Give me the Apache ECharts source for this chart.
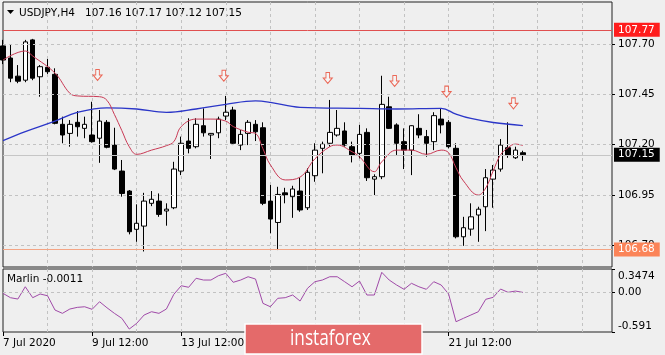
<!DOCTYPE html>
<html>
<head>
<meta charset="utf-8">
<script src="https://cdn.jsdelivr.net/npm/echarts@6/dist/echarts.min.js"></script>
<style>
  html, body { margin: 0; padding: 0; background: #efefef; }
  #chart { width: 665px; height: 355px; }
</style>
</head>
<body>
<div id="chart"></div>
<script>
// USDJPY H4 candles: [open, close, low, high]
var candles = [
  [107.69, 107.62, 107.60, 107.72],
  [107.63, 107.53, 107.51, 107.695],
  [107.54, 107.515, 107.505, 107.595],
  [107.52, 107.71, 107.51, 107.72],
  [107.72, 107.53, 107.52, 107.725],
  [107.537, 107.587, 107.438, 107.595],
  [107.584, 107.562, 107.551, 107.625],
  [107.549, 107.306, 107.301, 107.579],
  [107.301, 107.248, 107.207, 107.339],
  [107.256, 107.301, 107.19, 107.322],
  [107.311, 107.289, 107.24, 107.367],
  [107.281, 107.301, 107.232, 107.339],
  [107.248, 107.215, 107.21, 107.413],
  [107.232, 107.317, 107.11, 107.372],
  [107.311, 107.187, 107.182, 107.322],
  [107.198, 107.079, 107.074, 107.284],
  [107.069, 106.958, 106.942, 107.124],
  [106.97, 106.768, 106.755, 106.975],
  [106.78, 106.81, 106.718, 106.904],
  [106.796, 106.92, 106.67, 106.961],
  [106.909, 106.929, 106.895, 106.97],
  [106.92, 106.854, 106.842, 106.958],
  [106.871, 106.88, 106.798, 106.909],
  [106.887, 107.079, 106.88, 107.115],
  [107.069, 107.207, 107.049, 107.24],
  [107.218, 107.182, 107.157, 107.331],
  [107.19, 107.301, 107.182, 107.331],
  [107.294, 107.259, 107.24, 107.38],
  [107.248, 107.256, 107.129, 107.258],
  [107.259, 107.327, 107.232, 107.339],
  [107.342, 107.361, 107.322, 107.442],
  [107.372, 107.207, 107.198, 107.388],
  [107.198, 107.251, 107.173, 107.273],
  [107.256, 107.311, 107.198, 107.322],
  [107.301, 107.264, 107.218, 107.322],
  [107.284, 106.909, 106.9, 107.311],
  [106.92, 106.831, 106.76, 107.0],
  [106.814, 106.953, 106.677, 106.991],
  [106.961, 106.95, 106.909, 106.986],
  [106.942, 106.98, 106.837, 106.996],
  [106.97, 106.876, 106.867, 107.036],
  [106.887, 107.063, 106.876, 107.083],
  [107.046, 107.173, 107.016, 107.207],
  [107.182, 107.202, 107.058, 107.215],
  [107.207, 107.261, 107.19, 107.422],
  [107.248, 107.281, 107.24, 107.372],
  [107.268, 107.198, 107.19, 107.311],
  [107.19, 107.149, 107.112, 107.215],
  [107.157, 107.251, 107.132, 107.298],
  [107.261, 107.036, 107.02, 107.281],
  [107.029, 107.041, 106.95, 107.053],
  [107.041, 107.4, 107.029, 107.542],
  [107.388, 107.281, 107.278, 107.438],
  [107.298, 107.207, 107.149, 107.306],
  [107.215, 107.173, 107.079, 107.281],
  [107.173, 107.294, 107.049, 107.296],
  [107.281, 107.248, 107.232, 107.351],
  [107.24, 107.207, 107.14, 107.273],
  [107.215, 107.344, 107.173, 107.361],
  [107.327, 107.298, 107.256, 107.377],
  [107.311, 107.19, 107.182, 107.322],
  [107.182, 106.743, 106.735, 107.207],
  [106.743, 106.788, 106.698, 106.842],
  [106.781, 106.842, 106.748, 106.909],
  [106.851, 106.88, 106.718, 106.892],
  [106.892, 107.036, 106.771, 107.079],
  [107.029, 107.074, 106.887, 107.099],
  [107.079, 107.198, 107.066, 107.228],
  [107.185, 107.149, 107.135, 107.311],
  [107.135, 107.173, 107.129, 107.19],
  [107.16, 107.15, 107.12, 107.17]
];
var slots = 83; // bar slots across the window (empty ones on the right)

var xLabelIdx = [0, 12, 24, 36, 48, 60];
var xLabelText = ['7 Jul 2020', '9 Jul 12:00', '13 Jul 12:00', '15 Jul 12:00', '17 Jul 12:00', '21 Jul 12:00'];

var priceTicks = [106.70, 106.95, 107.20, 107.45, 107.70];
var resistance = 107.77;
var support = 106.68;
var lastPrice = 107.15;

// moving averages: [bar index, price]
var maFast = [
  [0, 107.62], [3, 107.665], [4, 107.64], [7, 107.555], [9, 107.455], [10, 107.442],
  [13, 107.438], [14, 107.42], [15, 107.35], [16, 107.27], [17, 107.19], [18, 107.152],
  [20, 107.173], [22, 107.195], [23, 107.215], [24, 107.29], [26, 107.327], [28, 107.327],
  [30, 107.317], [31, 107.29], [33, 107.262], [34, 107.256], [35, 107.18], [36, 107.10],
  [38, 107.025], [40, 107.039], [42, 107.13], [44, 107.19], [45, 107.198], [47, 107.165],
  [48, 107.14], [50, 107.066], [51, 107.115], [53, 107.173], [55, 107.173], [57, 107.152],
  [59, 107.173], [60, 107.16], [61, 107.085], [62, 107.02], [64, 106.95], [65, 106.985],
  [66, 107.07], [67, 107.15], [68, 107.185], [69, 107.203], [70, 107.196]
];
var maSlow = [
  [0, 107.22], [3, 107.265], [7, 107.317], [10, 107.36], [14, 107.383], [18, 107.377],
  [22, 107.36], [26, 107.377], [30, 107.40], [34, 107.417], [36, 107.41], [40, 107.385],
  [48, 107.38], [53, 107.377], [59, 107.38], [61, 107.352], [63, 107.33], [66, 107.31],
  [70, 107.295]
];

// signal arrows
var arrowIdx = [13, 30, 44, 53, 60, 69];
var arrowPrice = [107.546, 107.542, 107.531, 107.516, 107.463, 107.405];

// Marlin oscillator, one value per bar
var marlin = [
  -0.015, -0.080, -0.100, 0.083, -0.080, -0.025, -0.051, -0.264, -0.313, -0.249,
  -0.224, -0.215, -0.253, -0.140, -0.230, -0.313, -0.387, -0.547, -0.462, -0.338,
  -0.289, -0.313, -0.249, -0.030, 0.098, 0.075, 0.209, 0.183, 0.183, 0.247,
  0.283, 0.149, 0.183, 0.232, 0.198, -0.164, -0.215, -0.089, -0.080, -0.040,
  -0.130, 0.060, 0.158, 0.183, 0.232, 0.232, 0.158, 0.083, 0.168, -0.040,
  -0.040, 0.298, 0.183, 0.109, 0.045, 0.134, 0.083, 0.045, 0.158, 0.109,
  -0.025, -0.438, -0.387, -0.338, -0.289, -0.104, -0.075, 0.049, 0.000, 0.019,
  -0.0011
];
var marlinTicks = [-0.591, 0, 0.3474];

var cats = [];
for (var i = 0; i < slots; i++) cats.push('');
xLabelIdx.forEach(function (k, j) { cats[k] = xLabelText[j]; });

var font = 'DejaVu Sans';
var last = candles[candles.length - 1];
var headerVals = [last[0], last[3], last[2], last[1]].map(function (v) { return v.toFixed(2); }).join(' ');

function levelLine(v, color, boxColor) {
  return {
    yAxis: v,
    lineStyle: { color: color, type: 'solid', width: 1 },
    label: {
      show: true, position: 'end', distance: 2, formatter: v.toFixed(2),
      backgroundColor: boxColor, color: '#fff', fontFamily: font, fontSize: 10.5,
      padding: [2, 5, 1, 4]
    }
  };
}

var chart = echarts.init(document.getElementById('chart'));
chart.setOption({
  animation: false,
  backgroundColor: '#efefef',
  textStyle: { fontFamily: font },
  grid: [
    { left: 3, top: 2, width: 609, height: 265, show: true, borderColor: '#222', borderWidth: 1, backgroundColor: 'transparent' },
    { left: 3, top: 269, width: 609, height: 63, show: true, borderColor: '#222', borderWidth: 1, backgroundColor: 'transparent' }
  ],
  xAxis: [
    {
      type: 'category', gridIndex: 0, data: cats, boundaryGap: false,
      axisLine: { show: false, onZero: false }, axisTick: { show: false }, axisLabel: { show: false },
      splitLine: { show: true, interval: function (i) { return i % 6 === 0 && i > 0; }, lineStyle: { color: '#c2c2c2', type: [3, 3] } }
    },
    {
      type: 'category', gridIndex: 1, data: cats, boundaryGap: false, position: 'bottom',
      axisLine: { show: false, onZero: false },
      axisTick: { show: true, length: 4, interval: function (i, v) { return v !== ''; }, lineStyle: { color: '#000' } },
      axisLabel: {
        interval: function (i, v) { return v !== ''; }, align: 'left', margin: 6,
        color: '#000', fontFamily: font, fontSize: 10.5
      },
      splitLine: { show: true, interval: function (i) { return i % 6 === 0 && i > 0; }, lineStyle: { color: '#c2c2c2', type: [3, 3] } }
    }
  ],
  yAxis: [
    {
      type: 'value', gridIndex: 0, position: 'right', min: 106.593, max: 107.908, scale: true,
      axisLine: { show: false },
      axisTick: { show: true, customValues: priceTicks, length: 3, lineStyle: { color: '#000' } },
      axisLabel: { customValues: priceTicks, formatter: function (v) { return v.toFixed(2); }, color: '#000', fontFamily: font, fontSize: 10.5, margin: 6 },
      splitLine: { show: false }
    },
    {
      type: 'value', gridIndex: 1, position: 'right', min: -0.591, max: 0.3474,
      axisLine: { show: false },
      axisTick: { show: true, customValues: marlinTicks, length: 3, lineStyle: { color: '#000' } },
      axisLabel: {
        customValues: marlinTicks, color: '#000', fontFamily: font, fontSize: 10.5, margin: 6,
        formatter: function (v) {
          if (v > 0) return '{t|' + v + '}';
          if (v < 0) return '{b|' + v + '}';
          return '0.00';
        },
        rich: {
          t: { padding: [15, 0, 0, 0], fontFamily: font, fontSize: 10.5, color: '#000' },
          b: { padding: [0, 0, 12, 0], fontFamily: font, fontSize: 10.5, color: '#000' }
        }
      },
      splitLine: { show: false }
    }
  ],
  series: [
    {
      // grid levels and horizontal lines, kept behind the candles
      type: 'line', xAxisIndex: 0, yAxisIndex: 0, data: [], z: 1, silent: true,
      markLine: {
        silent: true, symbol: ['none', 'none'], animation: false,
        data: priceTicks.map(function (v) {
          return { yAxis: v, lineStyle: { color: '#c2c2c2', type: [3, 3], width: 1 }, label: { show: false } };
        }).concat([
          levelLine(lastPrice, '#c6c6c6', '#000'),
          levelLine(resistance, '#e05050', '#ff1c1c'),
          levelLine(support, '#f4a585', '#fb8458')
        ])
      }
    },
    {
      type: 'candlestick', xAxisIndex: 0, yAxisIndex: 0, data: candles, barWidth: 5, z: 3,
      itemStyle: { color: '#fff', color0: '#000', borderColor: '#000', borderColor0: '#000', borderWidth: 1 }
    },
    {
      type: 'line', xAxisIndex: 0, yAxisIndex: 0, data: maSlow, showSymbol: false, smooth: 0.4, z: 4,
      lineStyle: { color: '#2b36c8', width: 1.3 }
    },
    {
      type: 'line', xAxisIndex: 0, yAxisIndex: 0, data: maFast, showSymbol: false, smooth: 0.4, z: 4,
      lineStyle: { color: '#c93a55', width: 1 }
    },
    {
      type: 'scatter', xAxisIndex: 0, yAxisIndex: 0, z: 5,
      data: arrowIdx.map(function (k, j) { return [k, arrowPrice[j]]; }),
      symbol: 'path://M3,0 L7,0 L7,5 L10,5 L5,10 L0,5 L3,5 Z', symbolSize: [9, 11], symbolOffset: [-2, 0],
      itemStyle: { color: '#f6f6f6', borderColor: '#e8452f', borderWidth: 1 }
    },
    {
      type: 'line', xAxisIndex: 1, yAxisIndex: 1, data: marlin, showSymbol: false, z: 4,
      lineStyle: { color: '#a04aa8', width: 1 },
      markLine: {
        silent: true, symbol: ['none', 'none'], animation: false,
        data: [{ yAxis: 0, lineStyle: { color: '#c2c2c2', type: [3, 3], width: 1 }, label: { show: false } }]
      }
    }
  ],
  graphic: [
    { type: 'polygon', shape: { points: [[7, 10], [14, 10], [10.5, 14]] }, style: { fill: '#000' } },
    { type: 'text', x: 19, y: 13, style: { text: 'USDJPY,H4', font: '10.5px "DejaVu Sans"', fill: '#000', verticalAlign: 'middle' } },
    { type: 'text', x: 85, y: 13, style: { text: headerVals, font: '10.5px "DejaVu Sans"', fill: '#000', verticalAlign: 'middle' } },
    { type: 'text', x: 7, y: 279, style: { text: 'Marlin ' + marlin[marlin.length - 1].toFixed(4), font: '10.5px "DejaVu Sans"', fill: '#000', verticalAlign: 'middle' } },
    { type: 'rect', shape: { x: 245, y: 324, width: 177, height: 30 }, style: { fill: '#e46a6a', stroke: '#fff', lineWidth: 1.5 }, z: 100 },
    { type: 'text', x: 290, y: 339, scaleX: 0.82, z: 101, style: { text: 'instaforex', font: '21px "Open Sans"', fill: '#fff', verticalAlign: 'middle' } }
  ]
});
</script>
</body>
</html>
